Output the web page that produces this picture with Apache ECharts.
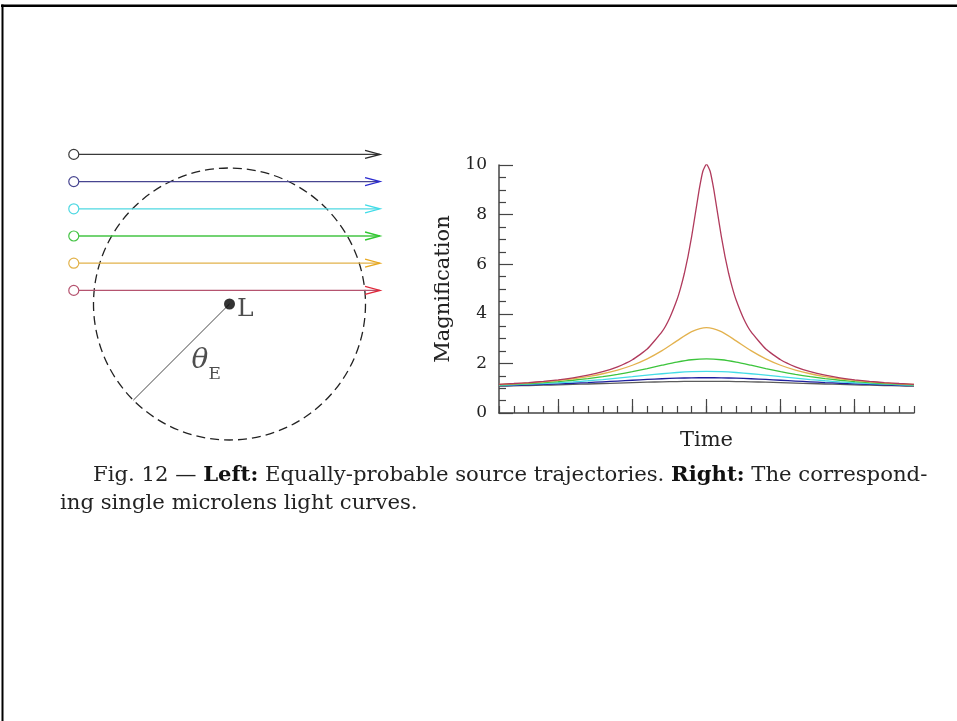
<!DOCTYPE html>
<html>
<head>
<meta charset="utf-8">
<script src="https://cdn.jsdelivr.net/npm/echarts@6/dist/echarts.min.js"></script>
<style>
html,body{margin:0;padding:0;background:#fff;}
#chart{width:957px;height:721px;}
</style>
</head>
<body>
<div id="chart"></div>
<script>
// ---------------- data ----------------
// Time axis (arbitrary units, one minor tick = 1)
const timeSteps = [-14,-13,-12,-11,-10,-9,-8,-7,-6,-5,-4,-3,-2,-1,0,1,2,3,4,5,6,7,8,9,10,11,12,13,14];
const timeFine = [-14,-13,-12,-11,-10,-9,-8,-7,-6,-5,-4,-3,-2.5,-2,-1.75,-1.5,-1.25,-1,-0.75,-0.5,-0.25,0,0.25,0.5,0.75,1,1.25,1.5,1.75,2,2.5,3,4,5,6,7,8,9,10,11,12,13,14];

// Magnification values (one per trajectory)
const magU01 = [1.158,1.189,1.227,1.276,1.338,1.418,1.524,1.667,1.864,2.147,2.577,3.280,3.814,4.556,5.037,5.614,6.307,7.124,8.047,8.986,9.740,10.04,9.740,8.986,8.047,7.124,6.307,5.614,5.037,4.556,3.814,3.280,2.577,2.147,1.864,1.667,1.524,1.418,1.338,1.276,1.227,1.189,1.158];
const magU03 = [1.150,1.178,1.214,1.257,1.312,1.381,1.469,1.583,1.731,1.926,2.183,2.513,2.907,3.280,3.445,3.280,2.907,2.513,2.183,1.926,1.731,1.583,1.469,1.381,1.312,1.257,1.214,1.178,1.150];
const magU05 = [1.136,1.161,1.190,1.225,1.269,1.321,1.385,1.463,1.556,1.667,1.792,1.926,2.053,2.147,2.183,2.147,2.053,1.926,1.792,1.667,1.556,1.463,1.385,1.321,1.269,1.225,1.190,1.161,1.136];
const magU07 = [1.119,1.139,1.162,1.189,1.220,1.257,1.300,1.349,1.404,1.463,1.524,1.583,1.633,1.667,1.679,1.667,1.633,1.583,1.524,1.463,1.404,1.349,1.300,1.257,1.220,1.189,1.162,1.139,1.119];
const magU09 = [1.102,1.116,1.133,1.153,1.175,1.200,1.227,1.257,1.289,1.321,1.353,1.381,1.404,1.418,1.424,1.418,1.404,1.381,1.353,1.321,1.289,1.257,1.227,1.200,1.175,1.153,1.133,1.116,1.102];
const magU11 = [1.084,1.095,1.108,1.121,1.136,1.153,1.170,1.189,1.207,1.225,1.242,1.257,1.269,1.276,1.278,1.276,1.269,1.257,1.242,1.225,1.207,1.189,1.170,1.153,1.136,1.121,1.108,1.095,1.084];

// Axis ticks
const yMin = 0, yMax = 10, yMajorStep = 2;
const xMin = -14, xMax = 14, xMinorStep = 1;
const xMajorTicks = [-10, -5, 0, 5, 10];

// Left diagram (units of the Einstein radius, lens at origin)
const impactParams = [1.1, 0.9, 0.7, 0.5, 0.3, 0.1];
const trajStartX = -1.145;
const trajEndX = 1.107;
const einsteinRadius = 1;
const radiusAngleDeg = 225;
const lensPos = [0, 0];
const thetaLabelPos = [-0.171, -0.419];

// Texts
const xAxisTitle = 'Time';
const yAxisTitle = 'Magnification';
const captionLine1 = '{n|Fig. 12 — }{b|Left:}{n| Equally-probable source trajectories. }{b|Right:}{n| The correspond-}';
const captionLine2 = '{n|ing single microlens light curves.}';

// ---------------- styles ----------------
const SERIF = "'DejaVu Serif', serif";
const CAPTION_SIZE = 21.2;
const curveColors = ['#5c5c5c', '#1e1e9e', '#44dce6', '#3cc43c', '#e3b24e', '#b03a5c'];
const trajLineColors = ['#3a3a3a', '#474590', '#4fd8e2', '#45c445', '#e2b24a', '#b5536f'];
const trajArrowColors = ['#2a2a2a', '#2a2ad0', '#40dce8', '#30c830', '#e8a820', '#e0283a'];

const zip = (xs, ys) => xs.map((x, i) => [x, ys[i]]);

const curves = [
  { name: 'u0 = 1.1', t: timeSteps, m: magU11, smooth: 0.2 },
  { name: 'u0 = 0.9', t: timeSteps, m: magU09, smooth: 0.2 },
  { name: 'u0 = 0.7', t: timeSteps, m: magU07, smooth: 0.2 },
  { name: 'u0 = 0.5', t: timeSteps, m: magU05, smooth: 0.2 },
  { name: 'u0 = 0.3', t: timeSteps, m: magU03, smooth: 0.25 },
  { name: 'u0 = 0.1', t: timeFine, m: magU01, smooth: 0.15 }
];

const curveSeries = curves.map((c, i) => ({
  name: c.name,
  type: 'line',
  xAxisIndex: 0,
  yAxisIndex: 0,
  data: zip(c.t, c.m),
  showSymbol: false,
  smooth: c.smooth,
  lineStyle: { color: curveColors[i], width: 1.3 },
  z: 3 + i
}));

const ang = radiusAngleDeg * Math.PI / 180;
const radiusEnd = [lensPos[0] + einsteinRadius * Math.cos(ang), lensPos[1] + einsteinRadius * Math.sin(ang)];

const chart = echarts.init(document.getElementById('chart'), null, { renderer: 'canvas' });

const option = {
  animation: false,
  backgroundColor: '#fff',
  graphic: [
    { type: 'line', shape: { x1: 1, y1: 5.8, x2: 957, y2: 5.8 }, style: { stroke: '#000', lineWidth: 2.5 } },
    { type: 'line', shape: { x1: 2.5, y1: 4.5, x2: 2.5, y2: 721 }, style: { stroke: '#000', lineWidth: 2 } }
  ],
  title: [
    {
      left: 93, top: 461, padding: 0,
      text: captionLine1,
      textStyle: {
        lineHeight: 28,
        rich: {
          n: { fontFamily: SERIF, fontSize: CAPTION_SIZE, color: '#222', fontWeight: 'normal', lineHeight: 28 },
          b: { fontFamily: SERIF, fontSize: CAPTION_SIZE, color: '#111', fontWeight: 'bold', lineHeight: 28 }
        }
      }
    },
    {
      left: 60, top: 489, padding: 0,
      text: captionLine2,
      textStyle: {
        lineHeight: 28,
        rich: {
          n: { fontFamily: SERIF, fontSize: CAPTION_SIZE, color: '#222', fontWeight: 'normal', lineHeight: 28 }
        }
      }
    }
  ],
  grid: [
    { left: 499, top: 165, width: 415, height: 248 },
    { left: 66.3, top: 140.8, width: 326.4, height: 326.4 }
  ],
  xAxis: [
    {
      gridIndex: 0, type: 'value', min: xMin, max: xMax, interval: xMinorStep,
      axisLine: { show: true, onZero: false, lineStyle: { color: '#444', width: 1.5 } },
      axisTick: { show: true, inside: true, length: 7, lineStyle: { color: '#444', width: 1.2 } },
      axisLabel: { show: false },
      splitLine: { show: false },
      name: xAxisTitle, nameLocation: 'middle', nameGap: 17,
      nameTextStyle: { fontFamily: SERIF, fontSize: 21, color: '#222' }
    },
    {
      gridIndex: 0, type: 'value', min: xMin, max: xMax, position: 'bottom',
      axisLine: { show: false, onZero: false },
      axisTick: { show: true, inside: true, length: 14, customValues: xMajorTicks, lineStyle: { color: '#444', width: 1.2 } },
      axisLabel: { show: false },
      splitLine: { show: false }
    },
    { gridIndex: 1, type: 'value', min: -1.2, max: 1.2, show: false }
  ],
  yAxis: [
    {
      gridIndex: 0, type: 'value', min: yMin, max: yMax, interval: yMajorStep,
      axisLine: { show: true, onZero: false, lineStyle: { color: '#444', width: 1.5 } },
      axisTick: { show: true, inside: true, length: 14, lineStyle: { color: '#444', width: 1.2 } },
      minorTick: { show: true, splitNumber: 4, length: 7, lineStyle: { color: '#444', width: 1.2 } },
      axisLabel: { margin: 12, fontFamily: SERIF, fontSize: 17, color: '#222' },
      splitLine: { show: false },
      minorSplitLine: { show: false },
      name: yAxisTitle, nameLocation: 'middle', nameRotate: 90, nameGap: 45,
      nameTextStyle: { fontFamily: SERIF, fontSize: 21, color: '#222' }
    },
    { gridIndex: 1, type: 'value', min: -1.2, max: 1.2, show: false }
  ],
  series: [
    ...curveSeries,
    // Einstein ring (dashed circle)
    {
      type: 'custom', name: 'Einstein ring',
      coordinateSystem: 'cartesian2d', xAxisIndex: 2, yAxisIndex: 1,
      data: [[lensPos[0], lensPos[1], einsteinRadius]],
      encode: { x: 0, y: 1 },
      silent: true,
      renderItem: function (params, api) {
        const c = api.coord([api.value(0), api.value(1)]);
        const r = api.size([api.value(2), 0])[0];
        return {
          type: 'circle',
          shape: { cx: c[0], cy: c[1], r: r },
          style: { fill: 'none', stroke: '#222', lineWidth: 1.3, lineDash: [9, 5] }
        };
      },
      z: 2
    },
    // Source trajectories
    {
      type: 'custom', name: 'Trajectories',
      coordinateSystem: 'cartesian2d', xAxisIndex: 2, yAxisIndex: 1,
      data: impactParams.map(u => [trajStartX, trajEndX, u]),
      encode: { x: [0, 1], y: 2 },
      silent: true,
      renderItem: function (params, api) {
        const u = api.value(2);
        const p0 = api.coord([api.value(0), u]);
        const p1 = api.coord([api.value(1), u]);
        const lc = trajLineColors[params.dataIndex];
        const ac = trajArrowColors[params.dataIndex];
        return {
          type: 'group',
          children: [
            { type: 'line', shape: { x1: p0[0] + 5, y1: p0[1], x2: p1[0] - 1, y2: p1[1] }, style: { stroke: lc, lineWidth: 1.3 } },
            { type: 'circle', shape: { cx: p0[0], cy: p0[1], r: 5 }, style: { fill: '#fff', stroke: lc, lineWidth: 1.2 } },
            { type: 'polyline', shape: { points: [[p1[0] - 15, p1[1] - 4], [p1[0], p1[1]], [p1[0] - 15, p1[1] + 4]] }, style: { fill: 'none', stroke: ac, lineWidth: 1.3 } }
          ]
        };
      },
      z: 3
    },
    // Radius line theta_E
    {
      type: 'line', name: 'Einstein radius',
      xAxisIndex: 2, yAxisIndex: 1,
      data: [lensPos, radiusEnd],
      showSymbol: false, silent: true,
      lineStyle: { color: '#333', width: 0.9 },
      z: 3
    },
    // Lens
    {
      type: 'scatter', name: 'Lens',
      xAxisIndex: 2, yAxisIndex: 1,
      data: [lensPos],
      symbol: 'circle', symbolSize: 11, silent: true,
      itemStyle: { color: '#000' },
      label: {
        show: true, position: 'right', distance: 2, offset: [0, 5],
        formatter: 'L', fontFamily: SERIF, fontSize: 25, color: '#222'
      },
      z: 5
    },
    // theta_E label
    {
      type: 'scatter', name: 'theta label',
      xAxisIndex: 2, yAxisIndex: 1,
      data: [thetaLabelPos],
      symbolSize: 1, silent: true,
      itemStyle: { color: 'transparent' },
      label: {
        show: true, position: 'inside',
        formatter: '{t|θ}{s|E}',
        rich: {
          t: { fontFamily: SERIF, fontStyle: 'italic', fontSize: 28, lineHeight: 44, color: '#222' },
          s: { fontFamily: SERIF, fontSize: 17, lineHeight: 17, verticalAlign: 'bottom', color: '#222' }
        }
      },
      z: 5
    }
  ]
};

chart.setOption(option);
</script>
</body>
</html>
